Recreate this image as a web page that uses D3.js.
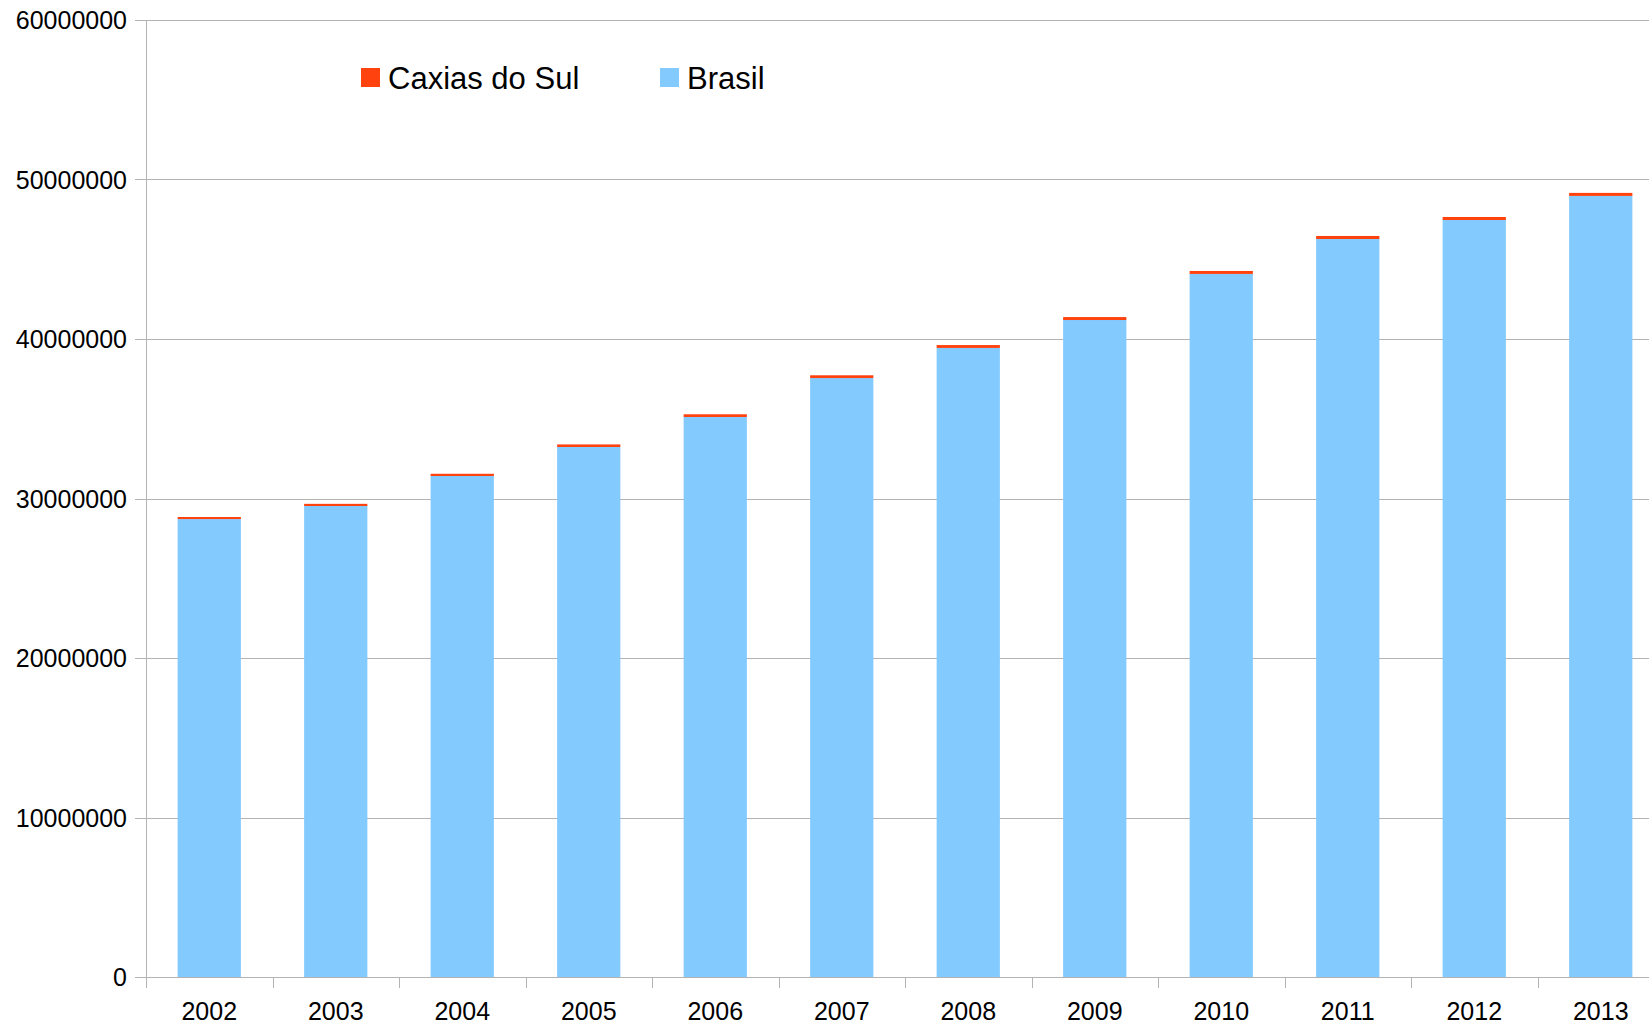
<!DOCTYPE html>
<html>
<head>
<meta charset="utf-8">
<script src="https://cdn.jsdelivr.net/npm/d3@7"></script>
<style>
	body { margin: 0; background: #fff; }
	svg { display: block; font-family: "Liberation Sans", Arial, sans-serif; }
</style>
</head>
<body>
<div class="chart"></div>
<script>
var years = ["2002", "2003", "2004", "2005", "2006", "2007", "2008", "2009", "2010", "2011", "2012", "2013"];
var brasil = [28710000, 29530000, 31410000, 33230000, 35110000, 37550000, 39440000, 41190000, 44080000, 46270000, 47460000, 48970000];
var caxias = [130000, 135000, 140000, 160000, 170000, 175000, 180000, 185000, 185000, 190000, 190000, 190000];
var yTicks = [0, 10000000, 20000000, 30000000, 40000000, 50000000, 60000000];
var seriesNames = ["Caxias do Sul", "Brasil"];
var colors = {"Brasil": "#83caff", "Caxias do Sul": "#ff420e"};

var chartW = 1649, chartH = 1026;
var plotLeft = 146, plotTop = 20, plotBottom = 977;
var step = 126.5;

var svg = d3.select(".chart").append("svg")
	.attr("width", chartW)
	.attr("height", chartH);

var rows = years.map(function(yr, i) {
	return {year: yr, "Brasil": brasil[i], "Caxias do Sul": caxias[i]};
});

var x = d3.scaleBand()
	.domain(years)
	.range([plotLeft, plotLeft + step * years.length])
	.paddingInner(0.5)
	.paddingOuter(0.25);

var y = d3.scaleLinear()
	.domain([0, 60000000])
	.range([plotBottom, plotTop]);

//grid lines
svg.append("g").selectAll("line")
	.data(yTicks)
	.enter().append("line")
	.attr("x1", plotLeft - 11)
	.attr("x2", chartW)
	.attr("y1", function(d){ return Math.round(y(d)) + 0.5 })
	.attr("y2", function(d){ return Math.round(y(d)) + 0.5 })
	.attr("stroke", "#b3b3b3")
	.attr("stroke-width", 1);

//stacked bars, Brasil at the bottom
var stack = d3.stack().keys(["Brasil", "Caxias do Sul"]);
svg.append("g").selectAll("g")
	.data(stack(rows))
	.enter().append("g")
	.attr("fill", function(s){ return colors[s.key] })
	.selectAll("rect")
	.data(function(s){ return s })
	.enter().append("rect")
	.attr("x", function(d){ return x(d.data.year) })
	.attr("width", x.bandwidth())
	.attr("y", function(d){ return y(d[1]) })
	.attr("height", function(d){ return y(d[0]) - y(d[1]) });

//axes
var axisColor = "#b3b3b3";
svg.append("line")
	.attr("x1", plotLeft + 0.5).attr("x2", plotLeft + 0.5)
	.attr("y1", plotTop).attr("y2", plotBottom + 11)
	.attr("stroke", axisColor);

var edges = years.map(function(d){ return x(d) - (x.step() - x.bandwidth()) / 2 });
edges.push(plotLeft + step * years.length);
svg.append("g").selectAll("line")
	.data(edges)
	.enter().append("line")
	.attr("x1", function(d){ return Math.round(d) + 0.5 })
	.attr("x2", function(d){ return Math.round(d) + 0.5 })
	.attr("y1", plotBottom)
	.attr("y2", plotBottom + 11)
	.attr("stroke", axisColor);

svg.append("g").selectAll("text")
	.data(yTicks)
	.enter().append("text")
	.attr("x", 127)
	.attr("y", function(d){ return y(d) + 9 })
	.attr("text-anchor", "end")
	.attr("font-size", 25)
	.attr("fill", "#000")
	.text(function(d){ return d3.format("d")(d) });

svg.append("g").selectAll("text")
	.data(years)
	.enter().append("text")
	.attr("x", function(d){ return x(d) + x.bandwidth() / 2 })
	.attr("y", 1020)
	.attr("text-anchor", "middle")
	.attr("font-size", 25)
	.attr("fill", "#000")
	.text(function(d){ return d });

//legend
var legendX = [361, 660];
var legend = svg.append("g").selectAll("g")
	.data(seriesNames)
	.enter().append("g")
	.attr("transform", function(d, i){ return "translate(" + legendX[i] + ",68)" });
legend.append("rect")
	.attr("width", 19)
	.attr("height", 19)
	.attr("fill", function(d){ return colors[d] });
legend.append("text")
	.attr("x", 27)
	.attr("y", 21)
	.attr("font-size", 31)
	.attr("fill", "#000")
	.text(function(d){ return d });
</script>
</body>
</html>
